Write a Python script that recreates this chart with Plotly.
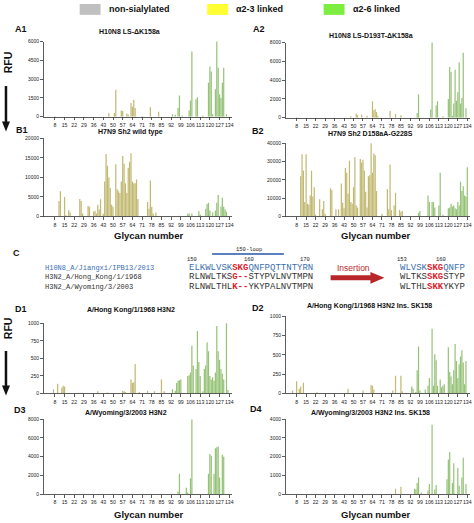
import plotly.graph_objects as go

W, H = 474, 523

# ---------------- data ----------------
glycan_numbers = list(range(1, 136))
tick_glycans = [8, 15, 22, 29, 36, 43, 50, 57, 64, 71, 78, 85, 92, 99, 106, 113, 120, 127, 134]

non_sialylated = list(range(1, 8))
alpha23_linked = list(range(8, 93))
alpha26_linked = list(range(93, 136))

# RFU read per glycan (unlisted glycans read as 0)
A1_rfu = {8: 60, 47: 300, 51: 300, 52: 2150, 56: 500, 57: 450, 60: 250, 61: 150, 63: 1100,
          64: 800, 65: 1350, 66: 700, 71: 50, 77: 750, 83: 400, 93: 200, 95: 150, 97: 700,
          98: 1700, 100: 100, 105: 500, 106: 1300, 107: 5200, 110: 1400, 111: 1550, 115: 100,
          119: 2700, 120: 4000, 121: 3600, 122: 200, 124: 2200, 125: 6100, 126: 3900, 127: 1800,
          128: 1500, 129: 2700, 130: 3900, 132: 200}
A2_rfu = {8: 50, 48: 150, 52: 450, 53: 250, 56: 350, 60: 200, 64: 1750, 65: 800, 66: 900,
          67: 600, 68: 200, 77: 700, 81: 400, 85: 250, 97: 500, 98: 2500, 107: 900, 108: 8100,
          111: 1300, 112: 1750, 116: 150, 120: 2000, 121: 5400, 122: 4900, 123: 200, 124: 1500,
          125: 5100, 126: 1800, 127: 2700, 128: 5900, 129: 1500, 130: 2100, 131: 6900, 133: 1000}
B1_rfu = {11: 4000, 12: 6500, 15: 5000, 16: 300, 18: 1600, 19: 1000, 26: 4500, 27: 4000,
          28: 800, 32: 2700, 33: 2500, 36: 1300, 37: 1500, 38: 800, 39: 3000, 40: 1800,
          41: 4400, 43: 700, 44: 9000, 45: 16000, 46: 13000, 47: 10000, 48: 7300, 49: 3000,
          50: 2500, 52: 13400, 53: 7000, 54: 6500, 55: 6000, 56: 9000, 57: 15500, 58: 13500,
          59: 8500, 60: 6000, 61: 12500, 62: 14000, 63: 16200, 64: 9000, 65: 8500, 66: 8500,
          67: 9500, 68: 4500, 75: 3700, 76: 2000, 77: 9200, 78: 2500, 79: 800, 81: 1000,
          98: 200, 104: 700, 105: 800, 107: 800, 112: 1400, 113: 500, 117: 2000, 118: 3200,
          119: 3500, 120: 1500, 122: 1000, 124: 1500, 125: 3500, 126: 5500, 128: 2500,
          129: 4800, 130: 2500, 131: 1800, 132: 1200}
B2_rfu = {11: 22000, 12: 34000, 13: 25000, 14: 8000, 15: 34000, 16: 7000, 17: 6500, 18: 11500,
          19: 25000, 20: 11000, 21: 16000, 22: 1000, 25: 9500, 27: 4000, 28: 8500, 29: 1500,
          33: 15500, 34: 14500, 37: 4000, 39: 4000, 41: 18000, 42: 7500, 43: 4500, 44: 26500,
          45: 24000, 46: 12500, 47: 30500, 48: 8000, 49: 7000, 50: 16000, 51: 32500, 52: 6000,
          53: 5000, 55: 31500, 56: 29500, 57: 31000, 58: 25000, 59: 13500, 60: 5000, 61: 22000,
          62: 22500, 63: 43000, 64: 24000, 65: 34500, 66: 33500, 67: 14000, 71: 1500, 75: 15000,
          76: 4000, 77: 28500, 78: 3500, 80: 6000, 81: 13000, 84: 3500, 85: 2500, 86: 3000,
          98: 2000, 99: 3000, 105: 11500, 106: 8000, 108: 8000, 109: 8000, 110: 5000, 113: 6000,
          114: 24000, 116: 1000, 120: 4500, 121: 5000, 122: 7000, 123: 5500, 124: 6000,
          125: 4500, 126: 4000, 127: 8000, 128: 6000, 129: 19000, 130: 14000, 131: 16500,
          132: 11500, 133: 11000, 134: 27000}
D1_rfu = {7: 60, 10: 140, 13: 80, 14: 110, 15: 100, 25: 10, 39: 30, 46: 15, 57: 40, 58: 30,
          59: 20, 63: 200, 64: 150, 65: 160, 66: 420, 69: 20, 75: 40, 80: 30, 85: 200, 87: 30,
          93: 60, 95: 40, 96: 150, 97: 180, 98: 190, 99: 200, 104: 250, 105: 260, 106: 300,
          107: 680, 108: 400, 110: 350, 111: 890, 112: 450, 113: 250, 115: 30, 116: 350,
          117: 400, 118: 730, 119: 600, 120: 250, 121: 200, 122: 230, 123: 180, 124: 300,
          125: 960, 126: 600, 127: 480, 128: 350, 129: 280, 130: 200, 132: 1020, 133: 50}
D2_rfu = {5: 40, 8: 160, 10: 60, 11: 90, 13: 140, 23: 15, 46: 60, 57: 40, 63: 110, 64: 100,
          65: 50, 79: 40, 81: 230, 85: 230, 86: 30, 93: 90, 94: 60, 96: 20, 97: 300, 98: 610,
          99: 40, 103: 50, 105: 100, 106: 200, 108: 840, 109: 100, 110: 510, 111: 430,
          112: 100, 114: 180, 115: 80, 116: 100, 117: 120, 120: 600, 121: 280, 122: 220,
          123: 120, 124: 300, 125: 640, 126: 420, 127: 200, 128: 380, 129: 480, 130: 560,
          131: 400, 132: 120, 133: 420}
D3_rfu = {97: 300, 98: 2200, 103: 700, 104: 200, 106: 1700, 107: 8000, 119: 2200, 120: 4300,
          121: 4100, 123: 2200, 124: 4900, 125: 5000, 126: 5100, 127: 1800, 129: 4200, 130: 4000}
D4_rfu = {81: 300, 85: 400, 95: 300, 96: 250, 97: 600, 98: 900, 100: 100, 105: 200, 106: 550,
          108: 3700, 110: 250, 111: 500, 119: 800, 120: 1850, 121: 2250, 123: 600, 124: 1650,
          127: 1400, 128: 450, 130: 900, 131: 1950, 133: 550}

panels = [
    ("A1", A1_rfu, "H10N8 LS-\u0394K158a", [0, 1500, 3000, 4500, 6000]),
    ("A2", A2_rfu, "H10N8 LS-D193T-\u0394K158a", [0, 2000, 4000, 6000, 8000]),
    ("B1", B1_rfu, "H7N9 Sh2 wild type", [0, 5000, 10000, 15000, 20000]),
    ("B2", B2_rfu, "H7N9 Sh2 D158aA-G228S", [0, 10000, 20000, 30000, 40000]),
    ("D1", D1_rfu, "A/Hong Kong/1/1968 H3N2", [0, 250, 500, 750, 1000]),
    ("D2", D2_rfu, "A/Hong Kong/1/1968 H3N2 Ins. SK158", [0, 250, 500, 750, 1000]),
    ("D3", D3_rfu, "A/Wyoming/3/2003 H3N2", [0, 2000, 4000, 6000, 8000]),
    ("D4", D4_rfu, "A/Wyoming/3/2003 H3N2 Ins. SK158", [0, 1000, 2000, 3000, 4000]),
]

# ---------------- layout geometry (pixels) ----------------
def px(x):
    return x / W

def py(y):
    return 1 - y / H

LEFT_X = (44, 233)
RIGHT_X = (287, 472)
geom = {
    "A1": (LEFT_X, 115, 39), "A2": (RIGHT_X, 116, 40),
    "B1": (LEFT_X, 216, 137), "B2": (RIGHT_X, 216, 142),
    "D1": (LEFT_X, 395, 324), "D2": (RIGHT_X, 395, 317),
    "D3": (LEFT_X, 497, 421), "D4": (RIGHT_X, 497, 421),
}
title_pos = {"A1": (130, 29), "A2": (373, 33), "B1": (131, 131), "B2": (372, 132),
             "D1": (132, 311), "D2": (371, 307), "D3": (127, 415), "D4": (372, 415)}
label_pos = {"A1": (21, 26), "A2": (260, 26), "B1": (22, 128), "B2": (259, 129),
             "D1": (21, 310), "D2": (259, 309), "D3": (20, 412), "D4": (257, 411)}

COL_GREY = "#b5b5ab"
COL_YEL = "#c2b973"
COL_GRN = "#97c379"

def bar_color(g):
    if g in non_sialylated:
        return COL_GREY
    if g in alpha23_linked:
        return COL_YEL
    return COL_GRN

colors = [bar_color(g) for g in glycan_numbers]

fig = go.Figure()
layout_axes = {}
annotations = []
FONT = "Liberation Sans, Arial, sans-serif"

for i, (key, vals, title, yt) in enumerate(panels, start=1):
    (x0, x1), yb, ytop = geom[key]
    ys = [vals.get(g, 0) for g in glycan_numbers]
    sfx = "" if i == 1 else str(i)
    fig.add_trace(go.Bar(x=glycan_numbers, y=ys, marker=dict(color=colors, line=dict(width=0)),
                         xaxis="x" + sfx, yaxis="y" + sfx, cliponaxis=False, showlegend=False))
    layout_axes["xaxis" + sfx] = dict(
        domain=[px(x0), px(x1)], range=[0, 136], anchor="y" + sfx,
        tickvals=tick_glycans, ticktext=[str(t) for t in tick_glycans], tickangle=0,
        ticks="outside", ticklen=3, tickwidth=0.8, tickcolor="#333",
        showline=True, linecolor="#333", linewidth=0.8, showgrid=False, zeroline=False,
        tickfont=dict(size=5.2, family=FONT, color="#222"), fixedrange=True)
    layout_axes["yaxis" + sfx] = dict(
        domain=[py(yb), py(ytop)], range=[0, yt[-1]], anchor="x" + sfx,
        tickvals=yt, ticktext=[str(t) for t in yt], tickangle=0,
        ticks="outside", ticklen=3, tickwidth=0.8, tickcolor="#333",
        showline=True, linecolor="#333", linewidth=0.8, showgrid=False, zeroline=False,
        tickfont=dict(size=5, family=FONT, color="#222"), fixedrange=True)
    tx, ty = title_pos[key]
    annotations.append(dict(x=px(tx), y=py(ty), xref="paper", yref="paper", text="<b>%s</b>" % title,
                            showarrow=False, font=dict(size=7, family=FONT, color="#111"),
                            xanchor="center", yanchor="middle", borderpad=0))
    lx, ly = label_pos[key]
    annotations.append(dict(x=px(lx), y=py(ly), xref="paper", yref="paper", text="<b>%s</b>" % key,
                            showarrow=False, font=dict(size=9, family=FONT, color="#111"),
                            xanchor="center", yanchor="middle", borderpad=0))

for (gx, gy) in [(149, 235), (377, 235), (149, 517), (377, 517)]:
    annotations.append(dict(x=px(gx), y=py(gy), xref="paper", yref="paper", text="<b>Glycan number</b>",
                            showarrow=False, font=dict(size=9.5, family=FONT, color="#111"),
                            xanchor="center", yanchor="middle", borderpad=0))
for ry in (60, 329):
    annotations.append(dict(x=px(8), y=py(ry), xref="paper", yref="paper", text="<b>RFU</b>",
                            textangle=-90, showarrow=False, font=dict(size=10.5, family=FONT, color="#111"),
                            xanchor="center", yanchor="middle", borderpad=0))

legend_items = [("non-sialylated", "#c0c0c0", 80), ("\u03b12-3 linked", "#ffff33", 208), ("\u03b12-6 linked", "#7ded3f", 325)]
shapes = []
for txt, col, bx in legend_items:
    shapes.append(dict(type="rect", xref="paper", yref="paper", x0=px(bx), x1=px(bx + 21),
                       y0=py(12), y1=py(1), fillcolor=col, line=dict(width=0)))
    annotations.append(dict(x=px(bx + 28), y=py(6), xref="paper", yref="paper", text="<b>%s</b>" % txt,
                            showarrow=False, font=dict(size=9, family=FONT, color="#111"),
                            xanchor="left", yanchor="middle", borderpad=0))

for (a0, a1) in [(84, 130), (352, 397)]:
    shapes.append(dict(type="line", xref="paper", yref="paper", x0=px(6), x1=px(6), y0=py(a0), y1=py(a1 - 8),
                       line=dict(color="#111", width=2.5)))
    shapes.append(dict(type="path", xref="paper", yref="paper",
                       path="M %f %f L %f %f L %f %f Z" % (px(2), py(a1 - 10), px(10), py(a1 - 10), px(6), py(a1)),
                       fillcolor="#111", line=dict(width=0)))

# ---------------- panel C: sequence alignment ----------------
MONO = "Liberation Mono, Courier New, monospace"
BLUE = "#3a6fb0"
RED = "#e0202a"
strain_names = ["H10N8_A/Jiangxi/IPB13/2013", "H3N2_A/Hong_Kong/1/1968", "H3N2_A/Wyoming/3/2003"]
name_colors = [BLUE, "#333", "#333"]
seq_left = [("ELKWLVSK", "SKG", "QNFPQTTNTYRN"),
            ("RLNWLTKS", "G--", "STYPVLNVTMPN"),
            ("RLNWLTHL", "K--", "YKYPALNVTMPN")]
seq_right = [("WLVSK", "SKG", "QNFP"),
             ("WLTKS", "SKG", "STYP"),
             ("WLTHL", "SKK", "YKYP")]
row_y = [268, 277.5, 287]
annotations.append(dict(x=px(17), y=py(253), xref="paper", yref="paper", text="<b>C</b>", showarrow=False,
                        font=dict(size=9, family=FONT, color="#111"), xanchor="center", yanchor="middle",
                        borderpad=0))
for k in range(3):
    annotations.append(dict(x=px(44), y=py(row_y[k]), xref="paper", yref="paper", text=strain_names[k],
                            showarrow=False, font=dict(size=7, family=MONO, color=name_colors[k]),
                            xanchor="left", yanchor="middle", borderpad=0))
    c = BLUE if k == 0 else "#333"
    a, b, d = seq_left[k]
    annotations.append(dict(x=px(189), y=py(row_y[k]), xref="paper", yref="paper",
                            text="<span style='color:%s'>%s</span><span style='color:%s'><b>%s</b></span><span style='color:%s'>%s</span>" % (c, a, RED, b, c, d),
                            showarrow=False, font=dict(size=9, family=MONO, color=c),
                            xanchor="left", yanchor="middle", borderpad=0))
    a, b, d = seq_right[k]
    annotations.append(dict(x=px(401), y=py(row_y[k]), xref="paper", yref="paper",
                            text="<span style='color:%s'>%s</span><span style='color:%s'><b>%s</b></span><span style='color:%s'>%s</span>" % (c, a, RED, b, c, d),
                            showarrow=False, font=dict(size=9, family=MONO, color=c),
                            xanchor="left", yanchor="middle", borderpad=0))
for num, nx in [("150", 193), ("160", 250), ("170", 306), ("153", 404), ("160", 443)]:
    annotations.append(dict(x=px(nx), y=py(259), xref="paper", yref="paper", text=num, showarrow=False,
                            font=dict(size=5.5, family=MONO, color="#222"), xanchor="center", yanchor="middle",
                            borderpad=0))
annotations.append(dict(x=px(250), y=py(249), xref="paper", yref="paper", text="150-loop", showarrow=False,
                        font=dict(size=5.5, family=MONO, color="#222"), xanchor="center", yanchor="middle",
                        borderpad=0))
shapes.append(dict(type="line", xref="paper", yref="paper", x0=px(213), x1=px(285), y0=py(254), y1=py(254),
                   line=dict(color="#5b7fc0", width=2)))
annotations.append(dict(x=px(355), y=py(268), xref="paper", yref="paper", text="Insertion", showarrow=False,
                        font=dict(size=8.5, family=FONT, color="#c0282d"), xanchor="center", yanchor="middle",
                        borderpad=0))
shapes.append(dict(type="path", xref="paper", yref="paper",
                   path="M %f %f L %f %f L %f %f L %f %f L %f %f L %f %f L %f %f Z" % (
                       px(332), py(275.5), px(372), py(275.5), px(372), py(272), px(386), py(278),
                       px(372), py(284), px(372), py(280.5), px(332), py(280.5)),
                   fillcolor="#b8252b", line=dict(width=0)))

fig.update_layout(width=W, height=H, margin=dict(l=0, r=0, t=0, b=0), paper_bgcolor="white",
                  plot_bgcolor="white", bargap=0.1, showlegend=False, annotations=annotations,
                  shapes=shapes, **layout_axes)

fig.write_html("out.html", config={"displayModeBar": False, "staticPlot": True},
               post_script="document.body.style.margin='0';document.body.style.overflow='hidden';")
